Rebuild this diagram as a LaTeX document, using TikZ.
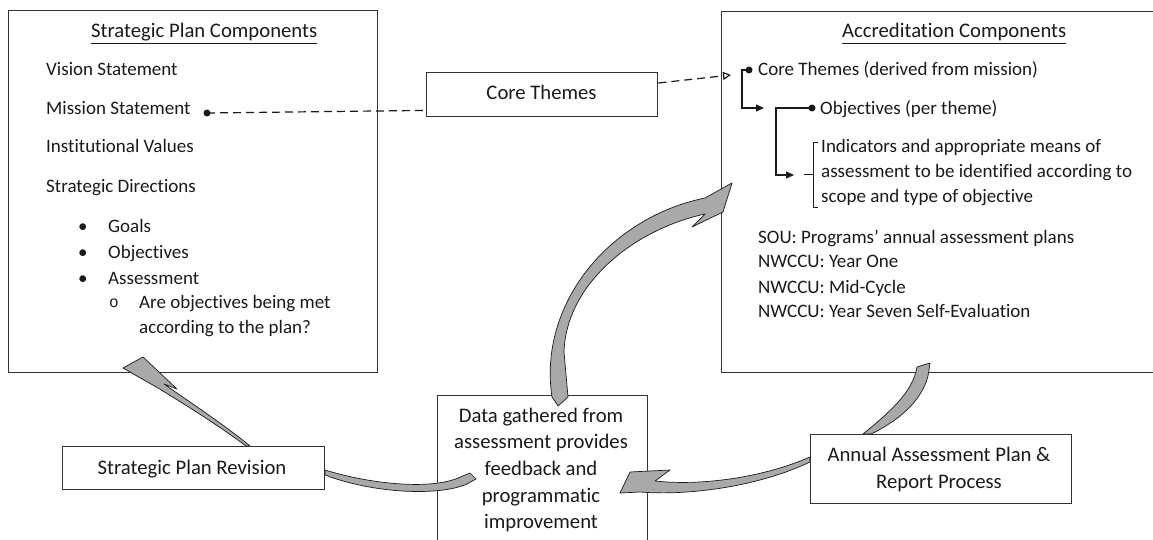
\documentclass[tikz,border=0pt]{standalone}
\usepackage{fontspec}
\setmainfont{Carlito}[Ligatures=NoCommon]
\newfontfamily\monofnt{Liberation Mono}
\usetikzlibrary{arrows.meta,calc}
\definecolor{ink}{HTML}{1A1A1A}
\definecolor{boxline}{HTML}{333333}
\definecolor{arrowfill}{HTML}{A9A9A9}
\begin{document}
\begin{tikzpicture}[x=1pt,y=-1pt,
  every node/.style={font=\fontsize{19}{22}\selectfont, text=ink, inner sep=0pt},
  big/.style={font=\fontsize{20.7}{24}\selectfont},
  box/.style={draw=boxline, line width=1.4pt, fill=white, anchor=north west, inner sep=0pt},
  lbl/.style={anchor=base west},
  ctr/.style={anchor=base, big},
  blockarrow/.style={fill=arrowfill, draw=ink, line width=0.7pt, line join=round},
  conn/.style={line width=1.2pt, draw=ink},
  dotst/.style={circle, fill=ink, minimum size=7pt, inner sep=0pt},
  tipfill/.style={-{Triangle[length=8pt,width=7pt]}},
  tipopen/.style={-{Triangle[open,length=8pt,width=8pt]}}]
\useasboundingbox (0,0) rectangle (1153,540);
\fill[white] (0,0) rectangle (1153,540);

% boxes
\node[box, minimum width=369pt, minimum height=362pt] (spc) at (8,10) {};
\node[box, minimum width=450pt, minimum height=361pt] (acc) at (721,11) {};
\node[box, minimum width=231pt, minimum height=44pt] (core) at (426,72) {};
\node[box, minimum width=262pt, minimum height=43pt] (spr) at (62,446) {};
\node[box, minimum width=210pt, minimum height=160pt] (data) at (437,395) {};
\node[box, minimum width=261pt, minimum height=69pt] (annual) at (810,434) {};

% left box text
\node[lbl, big] (spct) at (91,38) {\underline{Strategic Plan Components}};
\node[lbl] (vis) at (46,76) {Vision Statement};
\node[lbl] (mis) at (46,115) {Mission Statement};
\node[lbl] (inst) at (46,153) {Institutional Values};
\node[lbl] (sdir) at (46,193) {Strategic Directions};
\node[lbl] (b1) at (78,232) {•};
\node[lbl] (goals) at (108,232) {Goals};
\node[lbl] (b2) at (78,258) {•};
\node[lbl] (objs) at (108,258) {Objectives};
\node[lbl] (b3) at (78,284) {•};
\node[lbl] (assm) at (108,284) {Assessment};
\node[lbl, font=\monofnt\fontsize{16}{18}\selectfont] (b4) at (109,307) {o};
\node[lbl] (q1) at (139,308) {Are objectives being met};
\node[lbl] (q2) at (139,333) {according to the plan?};

% right box text
\node[lbl, big] (acct) at (842,38) {\underline{Accreditation Components}};
\node[lbl] (ct) at (758,76) {Core Themes (derived from mission)};
\node[lbl] (ob) at (820,115) {Objectives (per theme)};
\node[lbl] (ind1) at (821,153) {Indicators and appropriate means of};
\node[lbl] (ind2) at (821,178) {assessment to be identified according to};
\node[lbl] (ind3) at (821,203) {scope and type of objective};
\node[lbl] (sou) at (758,243) {SOU: Programs’ annual assessment plans};
\node[lbl] (nw1) at (758,267) {NWCCU: Year One};
\node[lbl] (nw2) at (758,293) {NWCCU: Mid-Cycle};
\node[lbl] (nw3) at (758,317) {NWCCU: Year Seven Self-Evaluation};

% small box texts
\node[ctr] (coret) at (541.5,100) {Core Themes};
\node[ctr] (sprt) at (192,474) {Strategic Plan Revision};
\node[ctr] (ann1) at (939,461) {Annual Assessment Plan \&};
\node[ctr] (ann2) at (939,488) {Report Process};
\node[ctr] (dt1) at (541,422) {Data gathered from};
\node[ctr] (dt2) at (541,448) {assessment provides};
\node[ctr] (dt3) at (541,475) {feedback and};
\node[ctr] (dt4) at (541,502) {programmatic};
\node[ctr] (dt5) at (541,528) {improvement};

% dashed mission -> core themes -> accreditation
\node[dotst] (md) at (207,113) {};
\draw[conn, dash pattern=on 8pt off 5pt] (md.center) -- ($(core.south west)+(0,-7)$);
\coordinate (cttip) at (731,75);
\draw[conn, dash pattern=on 8pt off 5pt, tipopen] ($(core.north east)+(0,11)$) -- (cttip);

% elbow connectors
\node[dotst] (d1) at (749,70) {};
\coordinate (e1) at (764,108);
\draw[conn, tipfill] (d1.center) -- (742,70) |- (e1);
\node[dotst] (d2) at (812,108) {};
\coordinate (e2) at (794,175);
\draw[conn, tipfill] (d2.center) -- (776,108) |- (e2);
\draw[conn, line width=1pt] (804,175) -- (813,175);
\draw[conn, line width=1pt] (818,143) -- (813,143) -- (813,207) -- (818,207);

% block arrows
% SPR -> strategic plan
\path[blockarrow] (123,368) -- (143,357) -- (177,389) -- (164,384)
  .. controls (188,401) and (222,423) .. (250,446) -- (246,446)
  .. controls (218,425) and (184,404) .. (158,388) -- cycle;
% SPR -> data
\path[blockarrow] (325,470) .. controls (370,484) and (430,490) .. (458,478)
  -- (470,473) -- (476,479) -- (467,484)
  .. controls (440,496) and (375,494) .. (325,475) -- cycle;
% annual -> data
\path[blockarrow] (620,493) -- (630,472) -- (670,470) -- (655,481)
  .. controls (700,486) and (762,478) .. (810,457) -- (810,462)
  .. controls (760,486) and (690,496) .. (640,492) -- cycle;
% data -> accreditation
\path[blockarrow] (732,183) -- (723,212) -- (692,227) -- (705,214)
  .. controls (632,230) and (566,285) .. (564,352) -- (568,397) -- (558,406) -- (552,397)
  .. controls (538,305) and (608,218) .. (705,198) -- cycle;
% annual -> accreditation
\path[blockarrow] (863,434) .. controls (895,408) and (913,390) .. (917,367)
  -- (930,363) -- (928,376) .. controls (922,400) and (900,420) .. (871,434) -- cycle;
\end{tikzpicture}
\end{document}
